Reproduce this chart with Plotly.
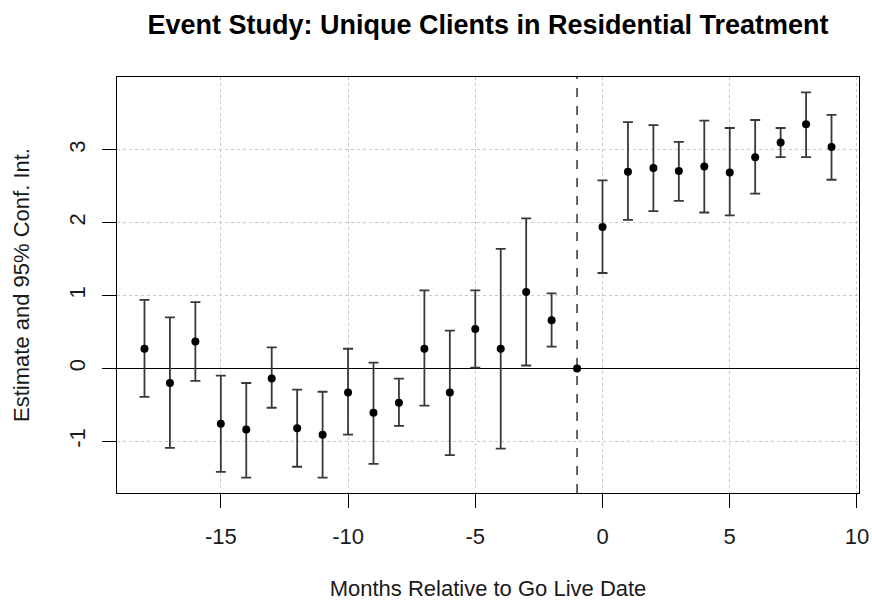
import plotly.graph_objects as go

# Event-study coefficients by month relative to go-live (reference month -1 fixed at 0)
months = list(range(-18, 10))
estimate = [0.27, -0.20, 0.37, -0.76, -0.84, -0.14, -0.82, -0.91, -0.33, -0.61,
            -0.47, 0.27, -0.33, 0.54, 0.27, 1.05, 0.66, 0.00,
            1.94, 2.70, 2.75, 2.71, 2.77, 2.69, 2.90, 3.10, 3.35, 3.04]
ci_low = [-0.39, -1.09, -0.17, -1.42, -1.50, -0.54, -1.35, -1.50, -0.91, -1.31,
          -0.79, -0.51, -1.19, 0.01, -1.10, 0.04, 0.30, 0.00,
          1.31, 2.04, 2.16, 2.30, 2.14, 2.10, 2.40, 2.90, 2.90, 2.59]
ci_high = [0.94, 0.70, 0.91, -0.10, -0.20, 0.29, -0.29, -0.32, 0.27, 0.08,
           -0.14, 1.07, 0.52, 1.07, 1.64, 2.06, 1.03, 0.00,
           2.58, 3.38, 3.34, 3.11, 3.40, 3.30, 3.41, 3.30, 3.79, 3.48]

x_ticks = [-15, -10, -5, 0, 5, 10]
y_ticks = [-1, 0, 1, 2, 3]
event_month = -1

err_plus = [h - e for h, e in zip(ci_high, estimate)]
err_minus = [e - l for e, l in zip(estimate, ci_low)]
has_ci = [h > l for h, l in zip(ci_high, ci_low)]

FONT = "Liberation Sans, Arial, sans-serif"
TEXT = "#1a1a1a"

fig = go.Figure()
# confidence intervals with end caps
fig.add_trace(go.Scatter(
    x=[m for m, k in zip(months, has_ci) if k],
    y=[e for e, k in zip(estimate, has_ci) if k],
    mode="markers",
    marker=dict(size=0.1, color="rgba(0,0,0,0)"),
    error_y=dict(type="data", symmetric=False,
                 array=[p for p, k in zip(err_plus, has_ci) if k],
                 arrayminus=[m for m, k in zip(err_minus, has_ci) if k],
                 color="#383838", thickness=1.8, width=5),
    hoverinfo="skip", showlegend=False,
))
# point estimates
fig.add_trace(go.Scatter(
    x=months, y=estimate, mode="markers",
    marker=dict(size=8, color="black"),
    showlegend=False,
))

# go-live marker
fig.add_shape(type="line", xref="x", x0=event_month, x1=event_month, yref="paper", y0=0, y1=1,
              line=dict(color="#333333", width=1.5, dash="dash"), layer="between")

fig.update_layout(
    width=872, height=601,
    margin=dict(l=117, r=13, t=77, b=108, autoexpand=False),
    paper_bgcolor="white", plot_bgcolor="white",
    font=dict(family=FONT, size=22, color=TEXT),
    title=dict(text="<b>Event Study: Unique Clients in Residential Treatment</b>",
               x=(117 + (872 - 13)) / 2 / 872, xanchor="center",
               y=1 - 25 / 601, yanchor="middle",
               font=dict(family=FONT, size=27, color="black")),
)

fig.update_xaxes(
    automargin=False,
    range=[-19.08, 10.08], tickvals=x_ticks, ticktext=[str(t) for t in x_ticks],
    showgrid=True, gridcolor="#c8c8c8", griddash="dot", gridwidth=1,
    zeroline=False, showline=True, linecolor="black", linewidth=1.2, mirror=True,
    ticks="outside", ticklen=14, tickwidth=1.2, tickcolor="black",
    ticklabelstandoff=9,
    title=dict(text="Months Relative to Go Live Date", standoff=34,
               font=dict(family=FONT, size=22)),
)
fig.update_yaxes(
    automargin=False,
    range=[-1.71, 4.00], tickvals=y_ticks, ticktext=[str(t) for t in y_ticks],
    tickangle=-90,
    showgrid=True, gridcolor="#c8c8c8", griddash="dot", gridwidth=1,
    zeroline=True, zerolinecolor="black", zerolinewidth=1.4,
    showline=True, linecolor="black", linewidth=1.2, mirror=True,
    ticks="outside", ticklen=14, tickwidth=1.2, tickcolor="black",
    ticklabelstandoff=8,
    title=dict(text="Estimate and 95% Conf. Int.", standoff=29,
               font=dict(family=FONT, size=22)),
)

fig.write_html("out.html")
